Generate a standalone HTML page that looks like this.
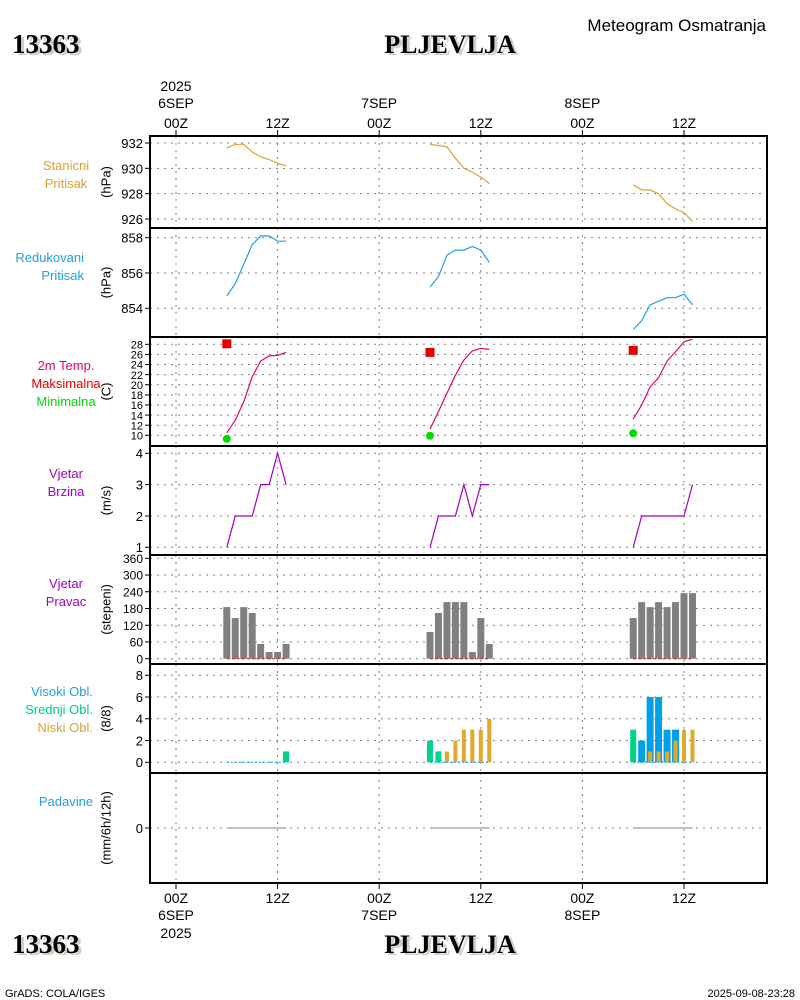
<!DOCTYPE html>
<html><head><meta charset="utf-8"><style>
html,body{margin:0;padding:0;background:#fff;}
svg{display:block;font-family:"Liberation Sans",sans-serif;}
</style></head><body>
<svg id="chart" width="800" height="1000" viewBox="0 0 800 1000" xmlns="http://www.w3.org/2000/svg">
<g>
<text x="15" y="55" font-family="Liberation Serif,serif" font-weight="bold" font-size="27" fill="#c8d4c4">13363</text>
<text x="12" y="53" font-family="Liberation Serif,serif" font-weight="bold" font-size="27" fill="#000">13363</text>
<text x="453" y="55" text-anchor="middle" font-family="Liberation Serif,serif" font-weight="bold" font-size="26" fill="#c8d4c4">PLJEVLJA</text>
<text x="450" y="53" text-anchor="middle" font-family="Liberation Serif,serif" font-weight="bold" font-size="26" fill="#000">PLJEVLJA</text>
<text x="766" y="31" text-anchor="end" font-size="17" fill="#000">Meteogram Osmatranja</text>
</g>
<g>
<text x="15" y="955" font-family="Liberation Serif,serif" font-weight="bold" font-size="27" fill="#c8d4c4">13363</text>
<text x="12" y="953" font-family="Liberation Serif,serif" font-weight="bold" font-size="27" fill="#000">13363</text>
<text x="453" y="955" text-anchor="middle" font-family="Liberation Serif,serif" font-weight="bold" font-size="26" fill="#c8d4c4">PLJEVLJA</text>
<text x="450" y="953" text-anchor="middle" font-family="Liberation Serif,serif" font-weight="bold" font-size="26" fill="#000">PLJEVLJA</text>
<text x="5" y="997" font-size="11" fill="#000">GrADS: COLA/IGES</text>
<text x="795" y="997" text-anchor="end" font-size="11" fill="#000">2025-09-08-23:28</text>
</g>
<g id="plots"></g>
</svg>
<script>
// ---- data (hours 06..13 each day) ----
const dayStartHours = [6, 30, 54];
const stnPressure = [[931.6,931.9,931.9,931.3,930.9,930.7,930.4,930.2],[931.9,931.8,931.7,930.8,930.0,929.7,929.3,928.8],[928.7,928.3,928.3,928.0,927.2,926.8,926.5,925.8]];
const redPressure = [[854.7,855.4,856.5,857.6,858.1,858.1,857.8,857.8],[855.2,855.8,857.0,857.3,857.3,857.5,857.3,856.6],[852.8,853.3,854.2,854.4,854.6,854.6,854.8,854.2]];
const temp2m = [[10.5,13.0,16.6,21.6,24.7,25.7,25.8,26.4],[11.2,14.7,18.3,21.9,24.9,26.7,27.2,27.0],[13.2,16.0,19.6,21.4,24.7,26.5,28.5,29.0]];
const tMax = [28.1, 26.4, 26.8];
const tMin = [9.3, 9.9, 10.4];
const windSpeed = [[1,2,2,2,3,3,4,3],[1,2,2,2,3,2,3,3],[1,2,2,2,2,2,2,3]];
const windDir = [[185,146,185,164,53,24,24,53],[96,164,203,203,203,24,146,53],[146,203,185,203,185,203,235,235]];
const cloudHigh = [[0,0,0,0,0,0,0,0],[0,0,0,0,0,0,0,0],[0,2,6,6,3,3,0,0]];
const cloudMid = [[0,0,0,0,0,0,0,1],[2,1,0,0,0,0,0,0],[3,0,0,0,0,0,0,0]];
const cloudLow = [[0,0,0,0,0,0,0,0],[0,0,1,2,3,3,3,4],[0,0,1,1,1,2,3,3]];
const precip = [[0,0,0,0,0,0,0,0],[0,0,0,0,0,0,0,0],[0,0,0,0,0,0,0,0]];
const topTickLabels = ["00Z","12Z","00Z","12Z","00Z","12Z"];

const NS = "http://www.w3.org/2000/svg";
const root = document.getElementById('plots');
const X0 = 150, X1 = 767;
function xH(h){ return 176 + h * 101.6 / 12; }
function mk(tag, attrs, parent, text){
  const e = document.createElementNS(NS, tag);
  for (const k in attrs) e.setAttribute(k, attrs[k]);
  if (text !== undefined) e.textContent = text;
  (parent || root).appendChild(e);
  return e;
}
function scale(v0, y0, v1, y1){ return v => y0 + (v - v0) * (y1 - y0) / (v1 - v0); }

const panels = [
  {name:'stn-pressure', top:136, bot:228, ticks:[926,928,930,932], y:scale(926,219,932,143), unit:'(hPa)', labels:[['Stanicni','#e0a030'],['Pritisak','#e0a030']], ly:170, fs:13},
  {name:'red-pressure', top:228, bot:337, ticks:[854,856,858], y:scale(854,308.3,858,237.7), unit:'(hPa)', labels:[['Redukovani','#1ea0e6'],['Pritisak','#1ea0e6']], ly:262, fs:13},
  {name:'temperature', top:337, bot:446, ticks:[10,12,14,16,18,20,22,24,26,28], y:scale(10,435.3,28,344.3), unit:'(C)', labels:[['2m Temp.','#e6006e'],['Maksimalna','#e60000'],['Minimalna','#00dc00']], ly:370, fs:11},
  {name:'wind-speed', top:446, bot:555, ticks:[1,2,3,4], y:scale(1,547.3,4,453.3), unit:'(m/s)', labels:[['Vjetar','#a000c8'],['Brzina','#a000c8']], ly:478, fs:13},
  {name:'wind-direction', top:555, bot:664, ticks:[0,60,120,180,240,300,360], y:scale(0,658.7,360,558.3), unit:'(stepeni)', labels:[['Vjetar','#a000c8'],['Pravac','#a000c8']], ly:588, fs:12},
  {name:'clouds', top:664, bot:773, ticks:[0,2,4,6,8], y:scale(0,762.3,8,675.3), unit:'(8/8)', labels:[['Visoki Obl.','#1ea0e6'],['Srednji Obl.','#00c88c'],['Niski Obl.','#e0a030']], ly:696, fs:13},
  {name:'precipitation', top:773, bot:883, ticks:[0], y:scale(0,828,1,818), unit:'(mm/6h/12h)', labels:[['Padavine','#1ea0e6']], ly:806, fs:13}
];
const grid = [0,12,24,36,48,60];

panels.forEach(p => {
  const g = mk('g', {});
  
  
  grid.forEach(h => {
    const l = mk('line', {x1:xH(h), x2:xH(h), y1:p.top, y2:p.bot, stroke:'#808080', 'stroke-dasharray':'2 5'}, g);
    
    
  });
  p.ticks.forEach(t => {
    const y = p.y(t);
    const l = mk('line', {x1:X0, x2:X1, y1:y, y2:y, stroke:'#808080', 'stroke-dasharray':'2 5'}, g);
    
    
    mk('line', {x1:X0-5, x2:X0, y1:y, y2:y, stroke:'#000'}, g);
    const tx = mk('text', {x:X0-7, y:y + p.fs*0.38, 'text-anchor':'end', 'font-size':p.fs, fill:'#000'}, g, String(t));
    
    
  });
  const ux = 106, uy = (p.top + p.bot) / 2;
  const u = mk('text', {x:ux, y:uy, transform:`rotate(-90 ${ux} ${uy})`, 'text-anchor':'middle', 'dominant-baseline':'central', 'font-size':13, fill:'#000'}, g, p.unit);
  
  
  p.labels.forEach((lb, i) => {
    const t = mk('text', {x:p.name==='clouds'?93:(p.name==='red-pressure'?84:66), y:p.ly + i*18, 'text-anchor':p.name==='clouds'||p.name==='red-pressure'?'end':'middle', 'font-size':13, fill:lb[1]}, g, lb[0]);
    
    
  });
  p.g = g;
});

function line(p, series, color, name){
  series.forEach((d, di) => {
    const pts = d.map((v, i) => xH(dayStartHours[di] + i).toFixed(1) + ',' + p.y(v).toFixed(1)).join(' ');
    const pl = mk('polyline', {points:pts, fill:'none', stroke:color, 'stroke-width':1.2}, p.g);
    
    
  });
}
line(panels[0], stnPressure, '#e0a030', 'station-pressure-line');
line(panels[1], redPressure, '#1ea0e6', 'reduced-pressure-line');
line(panels[2], temp2m, '#e6006e', 'temperature-line');
line(panels[3], windSpeed, '#a000c8', 'wind-speed-line');

tMax.forEach((v, di) => {
  const r = mk('rect', {x:xH(dayStartHours[di]) - 4.5, y:panels[2].y(v) - 4.5, width:9, height:9, fill:'#e60000'}, panels[2].g);
  
  
});
tMin.forEach((v, di) => {
  const c = mk('circle', {cx:xH(dayStartHours[di]), cy:panels[2].y(v), r:4, fill:'#00dc00'}, panels[2].g);
  
  
});

function bars(p, series, color, w, name){
  series.forEach((d, di) => d.forEach((v, i) => {
    if (v <= 0) return;
    const y0 = p.y(0), y1 = p.y(v);
    const r = mk('rect', {x:xH(dayStartHours[di] + i) - w/2, y:y1, width:w, height:y0 - y1, fill:color}, p.g);
    
    
  }));
}
bars(panels[4], windDir, '#808080', 7, 'wind-direction-bar');
bars(panels[5], cloudHigh, '#00a0e6', 7, 'high-cloud-bar');
bars(panels[5], cloudMid, '#00d28c', 6, 'mid-cloud-bar');
bars(panels[5], cloudLow, '#e0a830', 4, 'low-cloud-bar');

function zeroLine(p, series, color, dash, name){
  series.forEach((d, di) => {
    const pts = d.map((v, i) => xH(dayStartHours[di] + i).toFixed(1) + ',' + (p.y(v)).toFixed(1)).join(' ');
    const pl = mk('polyline', {points:pts, fill:'none', stroke:color, 'stroke-width':1, 'stroke-dasharray':dash}, p.g);
    
    
  });
}
zeroLine(panels[4], windDir.map(d => d.map(() => 0)), '#d02020', '3 2', 'calm-wind-line');
zeroLine(panels[5], cloudLow.map(d => d.map(() => 0)), '#00a0e6', '2 2', 'cloud-baseline');
zeroLine(panels[6], precip, '#808080', '', 'precipitation-line');

// frames
panels.forEach(p => {
  const r = mk('rect', {x:X0, y:p.top, width:X1 - X0, height:p.bot - p.top, fill:'none', stroke:'#000', 'stroke-width':2});
  
  
});

// time axes
const ta = mk('g', {});


grid.forEach((h, i) => {
  mk('line', {x1:xH(h), x2:xH(h), y1:130, y2:136, stroke:'#000'}, ta);
  mk('line', {x1:xH(h), x2:xH(h), y1:883, y2:889, stroke:'#000'}, ta);
  const t1 = mk('text', {x:xH(h), y:128, 'text-anchor':'middle', 'font-size':14, fill:'#000'}, ta, topTickLabels[i]);
  
  
  const t2 = mk('text', {x:xH(h), y:903, 'text-anchor':'middle', 'font-size':14, fill:'#000'}, ta, topTickLabels[i]);
  
  
});
const dateLabels = [['6SEP',0],['7SEP',24],['8SEP',48]];
dateLabels.forEach(d => {
  const a = mk('text', {x:xH(d[1]), y:108, 'text-anchor':'middle', 'font-size':14, fill:'#000'}, ta, d[0]);
  
  
  const b = mk('text', {x:xH(d[1]), y:920, 'text-anchor':'middle', 'font-size':14, fill:'#000'}, ta, d[0]);
  
  
});
const y1 = mk('text', {x:xH(0), y:91, 'text-anchor':'middle', 'font-size':14, fill:'#000'}, ta, '2025');


const y2 = mk('text', {x:xH(0), y:938, 'text-anchor':'middle', 'font-size':14, fill:'#000'}, ta, '2025');


</script>
</body></html>
